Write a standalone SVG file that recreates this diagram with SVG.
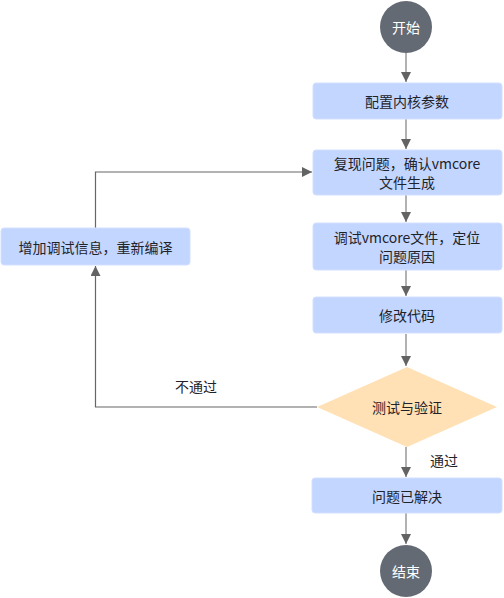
<svg xmlns="http://www.w3.org/2000/svg" width="504" height="598" viewBox="0 0 504 598">
<defs>
<marker id="ah" viewBox="0 0 10 10" refX="10" refY="5" markerWidth="10" markerHeight="10" markerUnits="userSpaceOnUse" orient="auto">
<path d="M0,0 L10,5 L0,10 z" fill="#636363"/>
</marker>
</defs>
<style>
text{font-family:"Noto Sans CJK SC","Noto Sans",sans-serif;font-size:14px;fill:#1f2329;text-anchor:middle;dominant-baseline:central}
.box{fill:#c3d6ff;stroke:#d3e0ff;stroke-width:1}
.circ{fill:#646a73}
.circ-t{fill:#ffffff}
.dia{fill:#ffe1b5}
.v{stroke:#999;stroke-width:1.5;fill:none}
.h{stroke:#666;stroke-width:1.2;fill:none}
</style>
<rect width="504" height="598" fill="#ffffff"/>
<g id="connectors">
<path class="v" d="M406,53 V82" marker-end="url(#ah)"/>
<path class="v" d="M406,119 V149" marker-end="url(#ah)"/>
<path class="v" d="M406,195 V222" marker-end="url(#ah)"/>
<path class="v" d="M406,270 V296" marker-end="url(#ah)"/>
<path class="v" d="M406,334 V366" marker-end="url(#ah)"/>
<path class="v" d="M406,447 V477" marker-end="url(#ah)"/>
<path class="v" d="M406,513 V544" marker-end="url(#ah)"/>
<path class="h" d="M317,407 H95.5 V266" marker-end="url(#ah)"/>
<path class="h" d="M95.5,228 V172 H312" marker-end="url(#ah)"/>
<text x="196" y="386">不通过</text>
<text x="444" y="460">通过</text>
</g>
<g id="start"><circle class="circ" cx="406" cy="27" r="26"/><text class="circ-t" x="406" y="27">开始</text></g>
<g id="n1"><rect class="box" x="313" y="83" width="189" height="36" rx="3"/><text x="407" y="101">配置内核参数</text></g>
<g id="n2"><rect class="box" x="313" y="150" width="189" height="45" rx="3"/><text x="407" y="163">复现问题，确认vmcore</text><text x="407" y="182">文件生成</text></g>
<g id="n3"><rect class="box" x="313" y="223" width="189" height="47" rx="3"/><text x="407" y="237">调试vmcore文件，定位</text><text x="407" y="256">问题原因</text></g>
<g id="n4"><rect class="box" x="313" y="297" width="189" height="36" rx="3"/><text x="407" y="315">修改代码</text></g>
<g id="n5"><path class="dia" d="M407,367 L497,407 L407,447 L317,407 z"/><text x="407" y="407">测试与验证</text></g>
<g id="n6"><rect class="box" x="312" y="478" width="190" height="35" rx="3"/><text x="407" y="496">问题已解决</text></g>
<g id="n7"><rect class="box" x="1" y="228" width="189" height="37" rx="3"/><text x="95.5" y="247">增加调试信息，重新编译</text></g>
<g id="end"><circle class="circ" cx="406" cy="571" r="26"/><text class="circ-t" x="406" y="571">结束</text></g>
</svg>
